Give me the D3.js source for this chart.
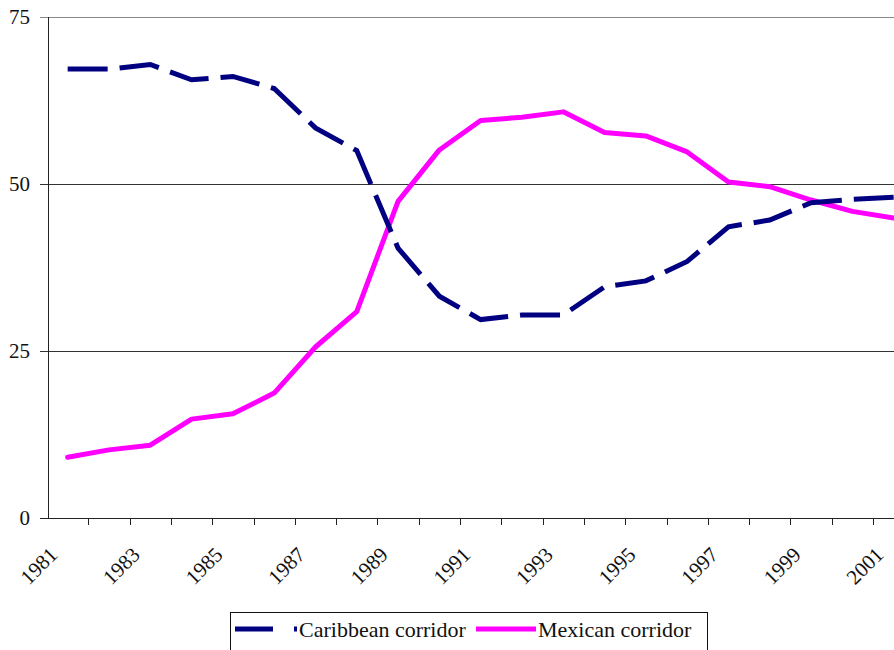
<!DOCTYPE html>
<html>
<head>
<meta charset="utf-8">
<script src="https://d3js.org/d3.v7.min.js"></script>
<style>
    body { margin: 0; background: #fff; }
    svg { display: block; }
    svg text { font-family: "Liberation Serif", "Times New Roman", "DejaVu Serif", serif; fill: #111; }
</style>
</head>
<body>
<div id="chart-line"></div>
<script>
// Data
var years = ["1981", "1982", "1983", "1984", "1985", "1986", "1987", "1988", "1989", "1990",
    "1991", "1992", "1993", "1994", "1995", "1996", "1997", "1998", "1999", "2000", "2001"];
var caribbean = [67.2, 67.2, 67.9, 65.6, 66.1, 64.3, 58.4, 55.0, 40.4, 33.2,
    29.7, 30.4, 30.4, 34.6, 35.5, 38.4, 43.6, 44.6, 47.2, 47.7, 48.0];
var mexican = [9.1, 10.2, 10.9, 14.8, 15.6, 18.7, 25.6, 30.9, 47.4, 55.1,
    59.5, 60.0, 60.8, 57.7, 57.2, 54.8, 50.3, 49.6, 47.6, 45.9, 44.9];
var yTicks = [0, 25, 50, 75];
var xLabels = ["1981", "1983", "1985", "1987", "1989", "1991", "1993", "1995", "1997", "1999", "2001"];
var seriesNames = ["Caribbean corridor", "Mexican corridor"];

//Info init chart
var infoChart = {
    width: 894,
    height: 650,
    divId: "#chart-line"
};

var navy = "#000080";
var magenta = "#ff00ff";

function drawChart() {
    var plot = { left: 47, top: 17, bottom: 518 };
    var step = 41.3;

    var svg = d3.select(infoChart.divId).append("svg")
        .attr("width", infoChart.width)
        .attr("height", infoChart.height);

    var x = d3.scaleBand()
        .domain(years)
        .range([plot.left, plot.left + step * years.length])
        .paddingInner(0)
        .paddingOuter(0);

    var y = d3.scaleLinear()
        .domain([0, 75])
        .range([plot.bottom, plot.top]);

    function cx(d) {
        return x(d) + x.bandwidth() / 2;
    }

    // gridlines + left ticks
    svg.selectAll(".grid")
        .data(yTicks.filter(function(d) { return d > 0; }))
        .enter().append("line")
        .attr("class", "grid")
        .attr("x1", 40)
        .attr("x2", infoChart.width)
        .attr("y1", function(d) { return Math.round(y(d)) + 0.5; })
        .attr("y2", function(d) { return Math.round(y(d)) + 0.5; })
        .style("stroke", function(d) { return d == 75 ? "#8a8a8a" : "#333"; })
        .style("stroke-width", 1);

    // y axis line
    svg.append("line")
        .attr("x1", 48.5).attr("x2", 48.5)
        .attr("y1", y(75)).attr("y2", y(0))
        .style("stroke", "#222");

    // x axis line
    svg.append("line")
        .attr("x1", 40).attr("x2", infoChart.width)
        .attr("y1", y(0) + 0.5).attr("y2", y(0) + 0.5)
        .style("stroke", "#222");

    // x ticks at band edges
    svg.selectAll(".xtick")
        .data(years.slice(1))
        .enter().append("line")
        .attr("class", "xtick")
        .attr("x1", function(d) { return Math.round(x(d)) + 0.5; })
        .attr("x2", function(d) { return Math.round(x(d)) + 0.5; })
        .attr("y1", y(0))
        .attr("y2", y(0) + 7)
        .style("stroke", "#222");

    // y labels
    svg.selectAll(".ylabel")
        .data(yTicks)
        .enter().append("text")
        .attr("class", "ylabel")
        .attr("x", 30)
        .attr("y", function(d) { return y(d); })
        .attr("dy", "0.35em")
        .attr("text-anchor", "end")
        .style("font-size", "21px")
        .text(String);

    // x labels, rotated
    svg.selectAll(".xlabel")
        .data(xLabels)
        .enter().append("text")
        .attr("class", "xlabel")
        .attr("text-anchor", "end")
        .attr("transform", function(d) {
            return "translate(" + (cx(d) - 9) + "," + 556 + ")rotate(-45)";
        })
        .style("font-size", "21px")
        .text(String);

    var line = d3.line()
        .x(function(d, i) { return cx(years[i]); })
        .y(function(d) { return y(d); });

    svg.append("path")
        .datum(mexican)
        .attr("d", line)
        .style("fill", "none")
        .style("stroke", magenta)
        .style("stroke-width", 5)
        .style("stroke-linejoin", "round")
        .style("stroke-linecap", "round");

    svg.append("path")
        .datum(caribbean)
        .attr("d", line)
        .style("fill", "none")
        .style("stroke", navy)
        .style("stroke-width", 5)
        .style("stroke-dasharray", "40,12");

    // Legend
    var legend = svg.append("g").attr("class", "legend");
    legend.append("rect")
        .attr("x", 230.5).attr("y", 612.5)
        .attr("width", 477).attr("height", 60)
        .style("fill", "#fff")
        .style("stroke", "#111");

    legend.append("line")
        .attr("x1", 235).attr("x2", 273)
        .attr("y1", 629).attr("y2", 629)
        .style("stroke", navy).style("stroke-width", 5);
    legend.append("rect")
        .attr("x", 294).attr("y", 626.5)
        .attr("width", 3).attr("height", 5)
        .style("fill", navy);
    legend.append("text")
        .attr("x", 299).attr("y", 637)
        .style("font-size", "22px")
        .text(seriesNames[0]);

    legend.append("line")
        .attr("x1", 476).attr("x2", 536)
        .attr("y1", 629).attr("y2", 629)
        .style("stroke", magenta).style("stroke-width", 5);
    legend.append("text")
        .attr("x", 538).attr("y", 637)
        .style("font-size", "22px")
        .text(seriesNames[1]);
}

drawChart();
</script>
</body>
</html>
